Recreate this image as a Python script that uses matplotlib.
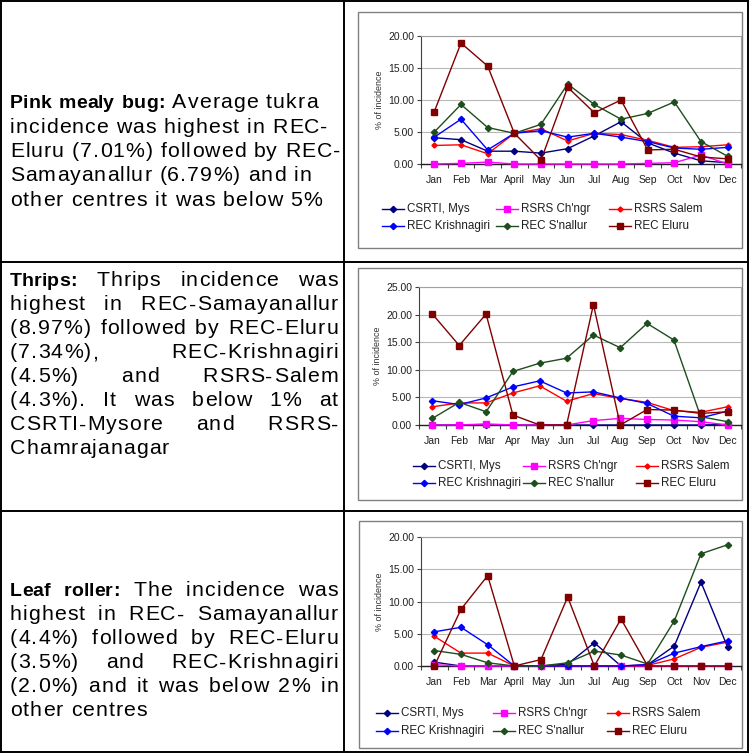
import matplotlib
matplotlib.use("Agg")
import matplotlib.pyplot as plt
from matplotlib.patches import Rectangle

W, H = 753, 754
DPI = 100

# ---------------- data ----------------
series_names = ["CSRTI, Mys", "RSRS Ch'ngr", "RSRS Salem",
                "REC Krishnagiri", "REC S'nallur", "REC Eluru"]

months_a = ["Jan", "Feb", "Mar", "April", "May", "Jun", "Jul", "Aug", "Sep", "Oct", "Nov", "Dec"]
months_b = ["Jan", "Feb", "Mar", "Apr", "May", "Jun", "Jul", "Aug", "Sep", "Oct", "Nov", "Dec"]

# Pink mealy bug
pmb_csrti = [4.1, 3.8, 2.0, 2.0, 1.7, 2.4, 4.4, 6.6, 3.3, 1.7, 0.5, 0.2]
pmb_chngr = [0.0, 0.1, 0.3, 0.0, 0.0, 0.0, 0.0, 0.0, 0.1, 0.2, 1.4, 0.0]
pmb_salem = [2.9, 3.0, 1.6, 4.8, 5.5, 3.6, 4.8, 4.6, 3.7, 2.6, 2.7, 3.0]
pmb_krish = [4.2, 7.0, 2.2, 4.8, 5.2, 4.2, 4.8, 4.2, 3.5, 2.5, 2.3, 2.6]
pmb_snallur = [5.0, 9.3, 5.7, 4.8, 6.2, 12.5, 9.3, 7.0, 7.9, 9.7, 3.5, 1.2]
pmb_eluru = [8.2, 18.9, 15.3, 4.8, 0.6, 12.0, 8.0, 10.0, 2.2, 2.3, 1.1, 0.8]

# Thrips
thr_csrti = [0.0, 0.0, 0.0, 0.0, 0.0, 0.0, 0.0, 0.0, 0.0, 0.0, 0.0, 0.1]
thr_chngr = [0.0, 0.0, 0.2, 0.0, 0.0, 0.0, 0.8, 1.2, 1.0, 0.9, 0.6, 0.0]
thr_salem = [3.3, 4.0, 4.0, 5.8, 7.1, 4.3, 5.7, 4.8, 4.1, 2.6, 2.3, 3.3]
thr_krish = [4.4, 3.7, 4.9, 6.9, 8.0, 5.8, 6.0, 4.9, 3.9, 1.6, 1.3, 2.5]
thr_snallur = [1.2, 4.1, 2.4, 9.7, 11.2, 12.1, 16.3, 14.0, 18.4, 15.4, 1.5, 0.6]
thr_eluru = [20.1, 14.4, 20.1, 1.8, 0.0, 0.0, 21.8, 0.0, 2.8, 2.7, 2.1, 2.4]

# Leaf roller
lr_csrti = [0.6, 0.0, 0.0, 0.0, 0.0, 0.3, 3.6, 0.0, 0.2, 3.1, 13.0, 2.9]
lr_chngr = [0.2, 0.0, 0.0, 0.0, 0.0, 0.0, 0.0, 0.0, 0.0, 0.0, 0.0, 0.0]
lr_salem = [4.6, 2.0, 2.0, 0.0, 0.0, 0.0, 0.0, 0.0, 0.1, 1.1, 2.9, 3.7]
lr_krish = [5.3, 6.0, 3.3, 0.0, 0.0, 0.0, 0.0, 0.0, 0.2, 2.0, 3.0, 3.9]
lr_snallur = [2.4, 1.8, 0.5, 0.0, 0.0, 0.5, 2.3, 1.7, 0.3, 7.0, 17.4, 18.8]
lr_eluru = [0.0, 8.8, 14.0, 0.0, 1.0, 10.7, 0.0, 7.3, 0.0, 0.0, 0.0, 0.0]

# ---------------- styles ----------------
colors = ["#000080", "#FF00FF", "#FF0000", "#0000FF", "#1E4D1E", "#800000"]
markers = ["D", "s", "D", "D", "D", "s"]
msizes = [3.2, 4.6, 2.6, 3.2, 3.2, 4.6]

plt.rcParams['font.family'] = ['Liberation Sans', 'DejaVu Sans']

fig = plt.figure(figsize=(W / DPI, H / DPI), dpi=DPI)
ov = fig.add_axes([0, 0, 1, 1])
ov.set_xlim(0, W)
ov.set_ylim(H, 0)
ov.axis('off')

# table borders
lw_tab = 1.4
for (x0, y0, x1, y1) in [(1, 1, 748, 1), (1, 752, 748, 752), (1, 1, 1, 752), (748, 1, 748, 752),
                         (1, 262, 748, 262), (1, 511, 748, 511), (344, 1, 344, 752)]:
    ov.plot([x0, x1], [y0, y1], color="black", lw=lw_tab, solid_capstyle='projecting')

# chart frames
for (x0, y0, x1, y1) in [(358, 12, 742, 248), (358, 268, 742, 500), (359, 521, 742, 748)]:
    ov.add_patch(Rectangle((x0, y0), x1 - x0, y1 - y0, fill=True, facecolor="white",
                           edgecolor="#808080", lw=1.0))

# ---------------- paragraph text (letter-spaced, per character) ----------------
FS = 15.3
FS_B = 14.0
TRACK = 1.05
TRACK_B = 0.0
renderer = fig.canvas.get_renderer()
_cache = {}


def _w(s, bold):
    key = (s, bold)
    if key not in _cache:
        t = ov.text(0, 0, s, fontsize=FS_B if bold else FS, fontweight='bold' if bold else 'normal')
        _cache[key] = t.get_window_extent(renderer).width
        t.remove()
    return _cache[key]


def adv(c, bold):
    return _w("H" + c + "H", bold) - _w("HH", bold)


def trk(bold):
    return TRACK_B if bold else TRACK


def word_w(w, bold):
    return sum(adv(c, bold) for c in w) + trk(bold) * (len(w) - 1)


def draw_word(x, y, w, bold):
    for c in w:
        ov.text(x, y, c, fontsize=FS_B if bold else FS, fontweight='bold' if bold else 'normal',
                ha='left', va='baseline', color='black')
        x += adv(c, bold) + trk(bold)


space_w = adv(" ", False) + 2 * TRACK


def draw_para(lines, y0, dy, justify, L=10, R=338):
    for i, line in enumerate(lines):
        words = []
        for seg, bold in line:
            for w in seg.split():
                words.append((w, bold))
        widths = [word_w(w, b) for w, b in words]
        last = (i == len(lines) - 1)
        if justify and not last and len(words) > 1:
            gap = (R - L - sum(widths)) / (len(words) - 1)
        else:
            gap = space_w
        x = L
        y = y0 + i * dy + 6.5
        for (w, b), wd in zip(words, widths):
            draw_word(x, y, w, b)
            x += wd + gap


para1 = [
    [("Pink mealy bug:", True), ("Average tukra", False)],
    [("incidence was highest in REC-", False)],
    [("Eluru (7.01%) followed by REC-", False)],
    [("Samayanallur (6.79%) and in", False)],
    [("other centres it was below 5%", False)],
]
para2 = [
    [("Thrips:", True), ("Thrips incidence was", False)],
    [("highest in REC-Samayanallur", False)],
    [("(8.97%) followed by REC-Eluru", False)],
    [("(7.34%), REC-Krishnagiri", False)],
    [("(4.5%) and RSRS-Salem", False)],
    [("(4.3%). It was below 1% at", False)],
    [("CSRTI-Mysore and RSRS-", False)],
    [("Chamrajanagar", False)],
]
para3 = [
    [("Leaf roller:", True), ("The incidence was", False)],
    [("highest in REC- Samayanallur", False)],
    [("(4.4%) followed by REC-Eluru", False)],
    [("(3.5%) and REC-Krishnagiri", False)],
    [("(2.0%) and it was below 2% in", False)],
    [("other centres", False)],
]
draw_para(para1, 102, 24.3, False)
draw_para(para2, 280, 24.0, True)
draw_para(para3, 590, 24.0, True)

# ---------------- charts ----------------


def px_axes(l, t, r, b):
    return fig.add_axes([l / W, 1 - b / H, (r - l) / W, (b - t) / H])


def draw_chart(rect, months, data, ymax, legend_rows, legend_cols):
    ax = px_axes(*rect)
    x = list(range(len(months)))
    for vals, c, m, ms, name in zip(data, colors, markers, msizes, series_names):
        ax.plot(x, vals, color=c, lw=1.0, marker=m, markersize=ms,
                markerfacecolor=c, markeredgecolor=c, label=name, clip_on=False, zorder=3)
    ax.set_xlim(-0.5, len(months) - 0.5)
    ax.set_ylim(0, ymax)
    ax.set_yticks(list(range(0, ymax + 1, 5)))
    ax.set_yticklabels(["%.2f" % v for v in range(0, ymax + 1, 5)], fontsize=7.5, color="#202020")
    ax.set_xticks(x)
    ax.set_xticklabels(months, fontsize=7.5, color="#202020")
    ax.set_xticks([i - 0.5 for i in range(len(months) + 1)], minor=True)
    ax.tick_params(axis='x', which='major', length=0, pad=8)
    ax.tick_params(axis='x', which='minor', length=3, width=0.8, color="#404040", direction='out')
    ax.tick_params(axis='y', length=3, width=0.8, color="#404040", pad=2)
    ax.grid(axis='y', color="#B8B8B8", lw=0.8, zorder=0)
    ax.set_axisbelow(True)
    for s in ['top', 'right']:
        ax.spines[s].set_color("#A0A0A0")
        ax.spines[s].set_linewidth(0.8)
    ax.spines['left'].set_color("#404040")
    ax.spines['left'].set_linewidth(0.8)
    ax.spines['bottom'].set_color("#202020")
    ax.spines['bottom'].set_linewidth(1.0)
    ax.set_ylabel("% of incidence", fontsize=6.4, color="#303030", labelpad=3)
    # legend (manual)
    k = 0
    for ry in legend_rows:
        for cx in legend_cols:
            c, m, ms, name = colors[k], markers[k], msizes[k], series_names[k]
            ov.plot([cx, cx + 22], [ry, ry], color=c, lw=1.0)
            ov.plot([cx + 11], [ry], marker=m, markersize=ms, color=c)
            ov.text(cx + 25, ry, name, fontsize=8.4, color="#202020", va='center', ha='left')
            k += 1
    return ax


draw_chart((421, 36, 741, 164), months_a,
           [pmb_csrti, pmb_chngr, pmb_salem, pmb_krish, pmb_snallur, pmb_eluru], 20,
           [209, 226], [382, 496, 609])
draw_chart((419, 287, 741, 425), months_b,
           [thr_csrti, thr_chngr, thr_salem, thr_krish, thr_snallur, thr_eluru], 25,
           [466, 483], [413, 523, 636])
draw_chart((421, 537, 741, 666), months_a,
           [lr_csrti, lr_chngr, lr_salem, lr_krish, lr_snallur, lr_eluru], 20,
           [713, 731], [376, 493, 607])

fig.savefig("out.png", dpi=DPI)
